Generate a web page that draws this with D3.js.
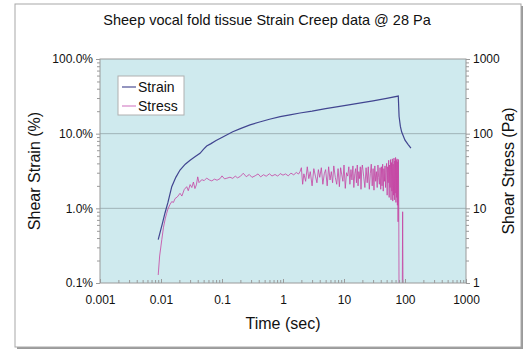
<!DOCTYPE html>
<html>
<head>
<meta charset="utf-8">
<script src="https://cdn.jsdelivr.net/npm/d3@7"></script>
<style>
  body { margin: 0; background: #fff; }
  svg text { font-family: "Liberation Sans", Arial, Helvetica, sans-serif; fill: #111; }
</style>
</head>
<body>
<svg id="chart" width="525" height="350"></svg>
<script>
// chart text
const title = 'Sheep vocal fold tissue Strain Creep data @ 28 Pa';
const xTitle = 'Time (sec)';
const yLeftTitle = 'Shear Strain (%)';
const yRightTitle = 'Shear Stress (Pa)';

// tick labels
const xTicks = [0.001, 0.01, 0.1, 1, 10, 100, 1000];
const xTickLabels = ['0.001', '0.01', '0.1', '1', '10', '100', '1000'];
const strainTicks = [0.1, 1, 10, 100];
const strainTickLabels = ['0.1%', '1.0%', '10.0%', '100.0%'];
const stressTicks = [1, 10, 100, 1000];
const stressTickLabels = ['1', '10', '100', '1000'];

// strain series (time in s, strain in %)
const strainTime = [0.009, 0.0105, 0.0116, 0.013, 0.015, 0.0175, 0.0205, 0.025, 0.03, 0.036,
  0.0436, 0.05, 0.0561, 0.065, 0.08, 0.105, 0.15, 0.2, 0.288, 0.4,
  0.6, 0.9, 1.3, 1.9, 3, 5, 8, 12, 20, 30,
  50, 77.6, 80, 84, 88, 100, 112, 125];
const strainPct = [0.38, 0.62, 0.86, 1.2, 1.95, 2.6, 3.26, 3.9, 4.4, 4.9,
  5.46, 6.2, 6.84, 7.3, 8.1, 9.1, 10.6, 11.7, 13.1, 14.2,
  15.6, 16.9, 17.9, 18.9, 20.0, 21.6, 23.0, 24.3, 26.0, 27.5,
  29.7, 31.9, 17, 12.5, 10.6, 8.2, 7.2, 6.4];

// stress series (time in s, stress in Pa)
const stressTime = [0.009, 0.0095, 0.0103, 0.011, 0.0118, 0.0124, 0.013, 0.014, 0.015, 0.016,
  0.017, 0.0185, 0.0205, 0.022, 0.024, 0.0264, 0.028, 0.03, 0.032, 0.034,
  0.036, 0.038, 0.04, 0.042, 0.0436, 0.047, 0.051, 0.056, 0.062, 0.068,
  0.075, 0.083, 0.093, 0.1, 0.11, 0.12, 0.135, 0.15, 0.165, 0.18,
  0.2, 0.223, 0.25, 0.28, 0.31, 0.35, 0.39, 0.43, 0.48, 0.53,
  0.6, 0.66, 0.74, 0.82, 0.9, 1.0, 1.1, 1.22, 1.35, 1.5,
  1.65, 1.8, 1.9,
  2.0, 2.1, 2.2, 2.35, 2.5, 2.65, 2.8, 3.0, 3.2, 3.4,
  3.6, 3.8, 4.0, 4.25, 4.5, 4.75, 5.0, 5.3, 5.6, 5.9,
  6.2, 6.5, 6.8, 7.2, 7.6, 8.0, 8.4, 8.8, 9.2, 9.6,
  10, 10.5, 11, 11.5, 12, 12.5, 13, 13.5, 14, 14.5,
  15, 15.5, 16, 16.5, 17, 17.5, 18, 18.5, 19, 19.5,
  20, 21, 22, 23, 24, 25, 26, 27, 28, 29,
  30, 31, 32, 33, 34, 35, 36, 37, 38, 39,
  40, 41, 42, 43, 44, 45, 46, 47, 48, 49,
  50, 51, 52, 53, 54, 55, 56, 57, 58, 59,
  60, 61, 62, 63, 64, 65, 66, 67, 68, 69,
  70, 71, 72, 73, 74, 75, 76, 77, 78, 79,
  80, 90, 91.5, 93];
const stressPa = [1.28, 2.3, 3.8, 5.6, 7.4, 8.6, 9.8, 11.2, 12.3, 12.0,
  13.5, 14.2, 15.9, 14.6, 17.8, 19.5, 17.2, 20.8, 19.0, 22.5,
  18.4, 20.6, 26.4, 22.1, 23.0, 24.2, 23.5, 25.4, 24.0, 23.3,
  24.6, 23.8, 25.0, 27.2, 24.8, 25.3, 26.1, 25.2, 27.0, 25.6,
  26.8, 29.5, 26.5, 28.4, 26.0, 27.3, 28.9, 26.4, 28.2, 26.9,
  29.0, 27.1, 28.4, 27.0, 29.2, 27.8, 28.9, 27.2, 29.6, 28.1,
  30.2, 28.8, 31.0,
  35, 21, 29, 23, 36, 25, 31, 20, 34, 27,
  22, 33, 26, 35, 21, 29, 33, 20, 36, 24,
  31, 22, 37, 26, 21, 34, 19.5, 35, 28, 23,
  38, 18.5, 30, 27, 36, 21, 33, 24, 37, 19,
  29, 34, 22, 38, 20, 31, 25, 36, 18, 33,
  38, 27, 19, 35, 22, 36, 18, 29, 39, 20,
  34, 17.5, 37, 23, 31, 19, 38, 26, 21, 35,
  18, 36, 20, 39, 17, 34, 23, 37, 19, 33,
  40, 15, 36, 22, 44, 14, 38, 19, 45, 13,
  41, 17, 46, 12.5, 39, 15, 47, 13, 43, 16,
  48, 12, 44, 14, 46, 11, 42, 6.6, 45, 10,
  0.5, 0.5, 9, 0.5];

// legend entries
const seriesNames = ['Strain', 'Stress'];

const svg = d3.select('#chart');
const plot = { left: 100, right: 466, top: 59, bottom: 283 };

const x = d3.scaleLog().domain([0.001, 1000]).range([plot.left, plot.right]);
const yStrain = d3.scaleLog().domain([0.1, 100]).range([plot.bottom, plot.top]);
const yStress = d3.scaleLog().domain([1, 1000]).range([plot.bottom, plot.top]);

// outer frame with a little drop shadow
svg.append('rect').attr('x', 17).attr('y', 6).attr('width', 506).attr('height', 343).attr('fill', '#9a9a9a');
svg.append('rect').attr('x', 15).attr('y', 4).attr('width', 506).attr('height', 343)
  .attr('fill', '#fff').attr('stroke', '#a8a8a8').attr('stroke-width', 1);

svg.append('text').attr('x', 267).attr('y', 25).attr('text-anchor', 'middle')
  .style('font-size', '14.5px').text(title);

// plot background
svg.append('rect').attr('x', plot.left).attr('y', plot.top)
  .attr('width', plot.right - plot.left).attr('height', plot.bottom - plot.top)
  .attr('fill', '#cfeaee');

// horizontal gridlines at strain decades
svg.append('g').selectAll('line')
  .data(strainTicks.slice(1, -1))
  .enter().append('line')
  .attr('x1', plot.left).attr('x2', plot.right)
  .attr('y1', d => yStrain(d)).attr('y2', d => yStrain(d))
  .attr('stroke', '#9fb3b7').attr('stroke-width', 1);

svg.append('defs').append('clipPath').attr('id', 'clip')
  .append('rect').attr('x', plot.left).attr('y', plot.top)
  .attr('width', plot.right - plot.left).attr('height', plot.bottom - plot.top);

const strainData = strainTime.map((t, i) => [t, strainPct[i]]);
const stressData = stressTime.map((t, i) => [t, stressPa[i]]);

// stress under strain
svg.append('path')
  .datum(stressData)
  .attr('clip-path', 'url(#clip)')
  .attr('fill', 'none')
  .attr('stroke', '#c543a3')
  .attr('stroke-opacity', 0.8)
  .attr('stroke-width', 1)
  .attr('d', d3.line().x(d => x(d[0])).y(d => yStress(d[1])));

svg.append('path')
  .datum(strainData)
  .attr('clip-path', 'url(#clip)')
  .attr('fill', 'none')
  .attr('stroke', '#414590')
  .attr('stroke-width', 1.2)
  .attr('d', d3.line().x(d => x(d[0])).y(d => yStrain(d[1])));

// plot border
svg.append('rect').attr('x', plot.left).attr('y', plot.top)
  .attr('width', plot.right - plot.left).attr('height', plot.bottom - plot.top)
  .attr('fill', 'none').attr('stroke', '#9a9a9a').attr('stroke-width', 1);

function styleAxis(g) {
  g.select('.domain').remove();
  g.selectAll('.tick line').attr('stroke', '#9a9a9a');
  g.selectAll('.tick text').style('font-size', '12px').attr('fill', '#111');
}
const minorOf = (scale, majors) => scale.ticks().filter(v => !majors.some(m => Math.abs(m - v) / m < 1e-9));

// x axis: ticks point into the plot
svg.append('g').attr('transform', `translate(0,${plot.bottom})`)
  .call(d3.axisBottom(x).tickValues(xTicks).tickSize(0).tickPadding(12)
    .tickFormat((d, i) => xTickLabels[i]))
  .call(styleAxis);
svg.append('g').attr('transform', `translate(0,${plot.bottom})`)
  .call(d3.axisTop(x).tickValues(minorOf(x, xTicks)).tickSize(3).tickFormat(''))
  .call(styleAxis);
svg.append('g').attr('transform', `translate(0,${plot.bottom})`)
  .call(d3.axisTop(x).tickValues(xTicks).tickSize(4).tickFormat(''))
  .call(styleAxis);

// left axis
svg.append('g').attr('transform', `translate(${plot.left},0)`)
  .call(d3.axisLeft(yStrain).tickValues(strainTicks).tickSize(4).tickPadding(3)
    .tickFormat((d, i) => strainTickLabels[i]))
  .call(styleAxis);
svg.append('g').attr('transform', `translate(${plot.left},0)`)
  .call(d3.axisLeft(yStrain).tickValues(minorOf(yStrain, strainTicks)).tickSize(3).tickFormat(''))
  .call(styleAxis);

// right axis
svg.append('g').attr('transform', `translate(${plot.right},0)`)
  .call(d3.axisRight(yStress).tickValues(stressTicks).tickSize(4).tickPadding(3)
    .tickFormat((d, i) => stressTickLabels[i]))
  .call(styleAxis);
svg.append('g').attr('transform', `translate(${plot.right},0)`)
  .call(d3.axisRight(yStress).tickValues(minorOf(yStress, stressTicks)).tickSize(3).tickFormat(''))
  .call(styleAxis);

// axis titles
svg.append('text').attr('x', 283).attr('y', 329).attr('text-anchor', 'middle')
  .style('font-size', '16px').text(xTitle);
svg.append('text').attr('transform', 'translate(40,171) rotate(-90)').attr('text-anchor', 'middle')
  .style('font-size', '16px').text(yLeftTitle);
svg.append('text').attr('transform', 'translate(514,171) rotate(-90)').attr('text-anchor', 'middle')
  .style('font-size', '16px').text(yRightTitle);

// legend
const legend = svg.append('g').attr('transform', 'translate(118,76)');
legend.append('rect').attr('width', 66).attr('height', 39)
  .attr('fill', '#fff').attr('stroke', '#b0b0b0');
const legendColors = ['#5a5c9c', '#d98fcc'];
seriesNames.forEach((name, i) => {
  const row = legend.append('g').attr('transform', `translate(0,${11 + i * 19})`);
  row.append('line').attr('x1', 4).attr('x2', 18).attr('y1', 0).attr('y2', 0)
    .attr('stroke', legendColors[i]).attr('stroke-width', 1.3);
  row.append('text').attr('x', 20).attr('y', 5).style('font-size', '14px').text(name);
});
</script>
</body>
</html>
